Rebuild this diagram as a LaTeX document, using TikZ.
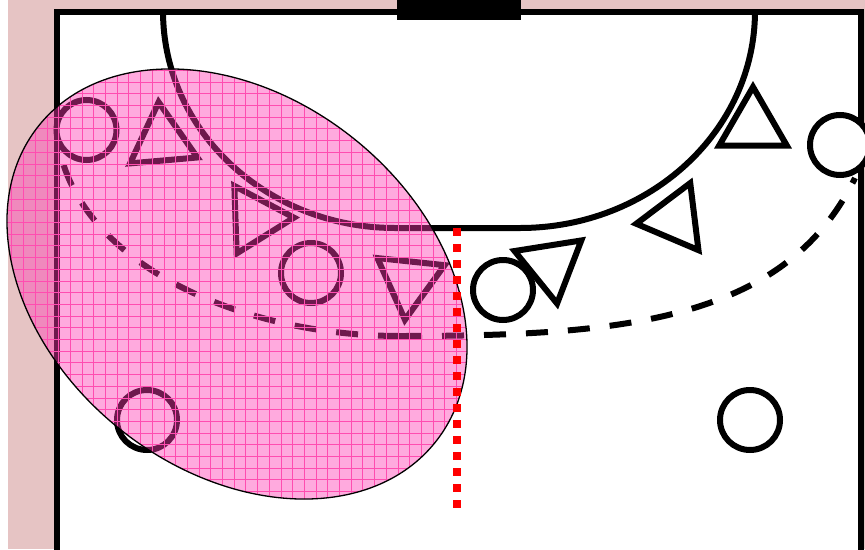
\documentclass[tikz,border=0pt]{standalone}
\usepackage{xcolor}
\usepackage{tikz}
\usetikzlibrary{shapes.geometric}

\definecolor{courtbg}{HTML}{E6C4C4}
\definecolor{zonepink}{HTML}{FF3CB4}
\definecolor{zonegrid}{HTML}{FF4DB0}

\begin{document}
\begin{tikzpicture}[
    x=1pt, y=-1pt,
    court/.style={draw, line width=6pt, fill=white},
    courtline/.style={draw, line width=6pt},
    dashline/.style={draw, line width=6pt, dash pattern=on 22pt off 20pt},
    redline/.style={draw=red, line width=8pt, dash pattern=on 8pt off 8pt},
    player/.style={draw, circle, fill=white, line width=6pt, minimum size=60pt, inner sep=0pt, outer sep=0pt},
    defender/.style={draw, regular polygon, regular polygon sides=3, line width=6pt, minimum size=78pt, inner sep=0pt, outer sep=0pt},
    zone/.style={rotate around={-38.5:(237,284)}}
]
\useasboundingbox (0,0) rectangle (865,549);

% Background and court.
\fill[courtbg] (8,0) rectangle (865,549);
\path[court] (57,11.5) -- (861,11.5) -- (861,560) -- (57,560) -- cycle;
\fill (397,0) rectangle (521,20);

% Goal area and free throw line.
\path[courtline] (163,11) arc[start angle=180, end angle=270, x radius=232pt, y radius=217pt] -- (520,228) arc[start angle=270, end angle=360, x radius=235pt, y radius=217pt];
\path[dashline] (400,336) .. controls (250,336) and (95,272) .. (62,160);
\path[dashline] (400,336) .. controls (620,336) and (785,322) .. (855,178);

% Defenders.
\node[defender, rotate=5] (defA) at (162,141) {};
\node[defender, rotate=-88] (defB) at (255,219) {};
\node[defender, rotate=174] (defC) at (409,281) {};
\node[defender, rotate=189] (defD) at (551,265) {};
\node[defender, rotate=97] (defE) at (675,219) {};
\node[defender, rotate=0] (defF) at (753,126) {};

% Attackers.
\node[player] (attA) at (86.5,130) {};
\node[player] (attB) at (311,273) {};
\node[player] (attC) at (503,290) {};
\node[player] (attD) at (147,420) {};
\node[player] (attE) at (750,420) {};
\node[player] (attF) at (840,145) {};

% Shaded zone with its grid.
\fill[zonepink, fill opacity=0.43, zone] (237,284) ellipse [x radius=253.7pt, y radius=186.5pt];
\begin{scope}
\clip[zone] (237,284) ellipse [x radius=253.7pt, y radius=186.5pt];
\draw[zonegrid, line width=0.6pt, step=11.7pt] (0,60) grid (480,510);
\end{scope}
\draw[line width=1.3pt, zone] (237,284) ellipse [x radius=253.7pt, y radius=186.5pt];

% Red limit.
\path[redline] (457,228) -- (457,508);
\end{tikzpicture}
\end{document}
